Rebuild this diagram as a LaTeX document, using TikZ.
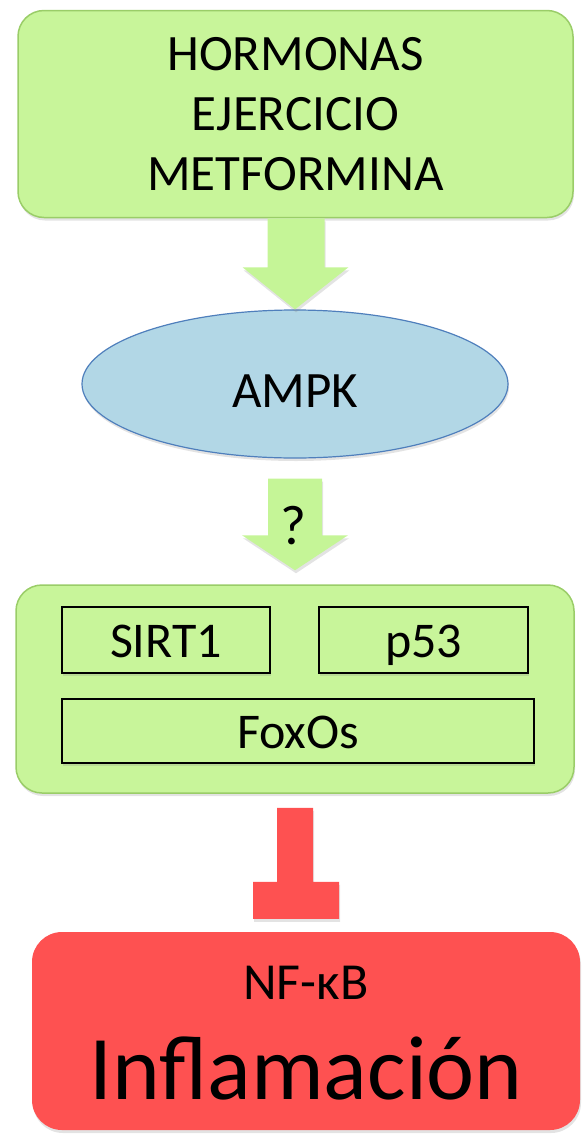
\documentclass[tikz,border=0pt]{standalone}
\usepackage{fontspec}
\setmainfont{Carlito}
\usetikzlibrary{shapes.geometric,calc,shadows}
\definecolor{boxgreen}{HTML}{C8F59A}
\definecolor{boxgreenline}{HTML}{9ACD68}
\definecolor{arrowgreen}{HTML}{C5F597}
\definecolor{ampkfill}{HTML}{B2D7E6}
\definecolor{ampkline}{HTML}{4F7FBC}
\definecolor{inflred}{HTML}{FE5151}
\begin{document}
\begin{tikzpicture}[x=1pt,y=-1pt,
  softshadow/.style={drop shadow={opacity=0.22,shadow xshift=1pt,shadow yshift=-3pt}},
  greenbox/.style={rectangle,rounded corners=26pt,fill=boxgreen,draw=boxgreenline,
    line width=1.5pt,softshadow,inner sep=0pt},
  genebox/.style={rectangle,draw=black,line width=1.6pt,fill=boxgreen,inner sep=0pt,
    softshadow,font=\fontsize{50}{54}\selectfont,text height=34pt,text depth=0pt},
  redbox/.style={rectangle,rounded corners=30pt,fill=inflred,inner sep=0pt,softshadow},
  blockarrow/.style={fill=arrowgreen,softshadow},
  blockbar/.style={fill=inflred,softshadow}]
\useasboundingbox (0,0) rectangle (583,1138);

% stimuli
\node[greenbox,minimum width=555pt,minimum height=207pt,align=center,
  font=\fontsize{51}{60}\selectfont] (top) at (295.5,114)
  {HORMONAS\\EJERCICIO\\METFORMINA};

% kinase
\node[ellipse,fill=ampkfill,draw=ampkline,line width=1.2pt,minimum width=426pt,
  minimum height=148pt,inner sep=0pt,font=\fontsize{51}{55}\selectfont,
  text height=47pt,text depth=0pt,softshadow] (ampk) at (295,384) {AMPK};

% downstream effectors
\node[greenbox,minimum width=558pt,minimum height=208pt] (mid) at (295,689) {};
\node[genebox,minimum width=208pt,minimum height=66pt] (sirt) at (166,640) {SIRT1};
\node[genebox,minimum width=209pt,minimum height=66pt] (p53) at (423.5,640) {p53};
\node[genebox,minimum width=472pt,minimum height=64pt] (foxo) at (298,731) {FoxOs};

% inflammation
\node[redbox,minimum width=548pt,minimum height=198pt] (infl) at (306,1031) {};
\node[font=\fontsize{52}{56}\selectfont,anchor=base] (nfkb) at (306,999) {NF-κB};
\node[font=\fontsize{91}{95}\selectfont,anchor=base] (inflt) at (306,1099) {Inflamación};

% arrow: stimuli -> AMPK
\fill[blockarrow]
  ($(top.south)+(-28,0)$) -- ($(top.south)+(29,0)$) -- ($(top.south)+(29,49)$)
  -- ($(top.south)+(53,49)$) -- (ampk.north) -- ($(top.south)+(-53,49)$)
  -- ($(top.south)+(-28,49)$) -- cycle;

% arrow: AMPK -> effectors (uncertain link)
\coordinate (q0) at ($(ampk.south)+(0,20)$);
\coordinate (q1) at ($(mid.north)+(0,-14)$);
\fill[blockarrow]
  ($(q0)+(-27,0)$) -- ($(q0)+(27,0)$) -- ($(q1)+(27,-35)$) -- ($(q1)+(53,-35)$)
  -- (q1) -- ($(q1)+(-53,-35)$) -- ($(q1)+(-27,-35)$) -- cycle;
\node[font=\fontsize{56}{60}\selectfont] (qm) at ($(q0)+(-2,47)$) {?};

% inhibition bar: effectors -| inflammation
\coordinate (t0) at ($(mid.south)+(0,14)$);
\coordinate (t1) at ($(t0 |- infl.north)+(0,-13)$);
\fill[blockbar]
  ($(t0)+(-18,0)$) -- ($(t0)+(18,0)$) -- ($(t1)+(18,-37)$) -- ($(t1)+(44,-37)$)
  -- ($(t1)+(44,0)$) -- ($(t1)+(-42,0)$) -- ($(t1)+(-42,-37)$) -- ($(t1)+(-18,-37)$) -- cycle;
\end{tikzpicture}
\end{document}
